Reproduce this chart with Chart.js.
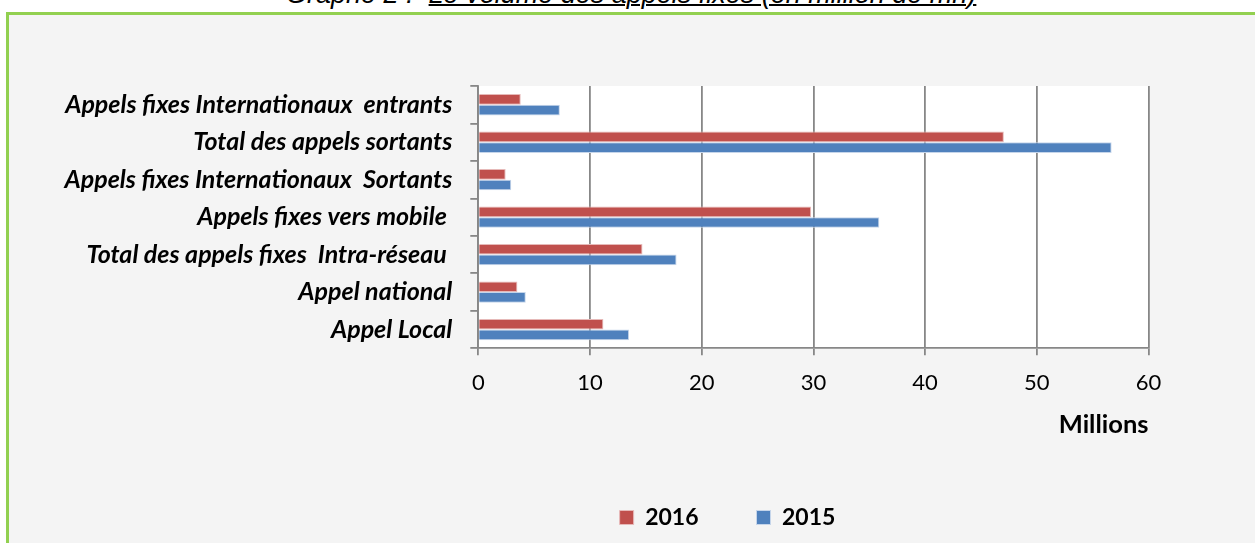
<!DOCTYPE html>
<html>
<head>
<meta charset="utf-8">
<script src="https://cdn.jsdelivr.net/npm/chart.js@4.4.1/dist/chart.umd.min.js"></script>
<style>
  html, body { margin: 0; padding: 0; background: #ffffff; overflow: hidden; }
  #frame {
    position: absolute; left: 6px; top: 12px; width: 1400px; height: 700px;
    background: #f4f4f4; border-left: 3px solid #92d050; border-top: 3px solid #92d050;
  }
  #heading {
    position: absolute; left: 286px; top: -19px; white-space: pre;
    font: italic 27px "Liberation Sans", Arial, sans-serif; line-height: 1; color: #000;
  }
  #heading u { text-decoration-thickness: 2px; }
  #chart { position: absolute; left: 0; top: 0; }
</style>
</head>
<body>
<div id="frame"></div>
<div id="heading">Graphe 2 :  <u>Le volume des appels fixes (en million de mn)</u></div>
<canvas id="chart" width="1255" height="543"></canvas>
<script>
// categories, top to bottom as they appear on the chart
const categories = [
  "Appels fixes Internationaux  entrants",
  "Total des appels sortants",
  "Appels fixes Internationaux  Sortants",
  "Appels fixes vers mobile ",
  "Total des appels fixes  Intra-réseau ",
  "Appel national",
  "Appel Local"
];

// volumes in millions of minutes
const values2016 = [3.8, 47.05, 2.45, 29.8, 14.7, 3.5, 11.2];
const values2015 = [7.3, 56.7, 2.95, 35.9, 17.75, 4.25, 13.5];

const xTicks = [0, 10, 20, 30, 40, 50, 60];

const gridGrey = "#878787";

// white plot area
const plotBackground = {
  id: "plotBackground",
  beforeDraw(chart) {
    const { ctx, chartArea: a } = chart;
    ctx.save();
    ctx.fillStyle = "#ffffff";
    ctx.fillRect(a.left, a.top, a.right - a.left, a.bottom - a.top);
    ctx.restore();
  }
};

// the legend sits left of the plot centre, as in the original
const legendShift = {
  id: "legendShift",
  afterLayout(chart) {
    const lg = chart.legend;
    const shift = 727.5 - (lg.left + lg.right) / 2;
    lg.left += shift;
    lg.right += shift;
  }
};

new Chart(document.getElementById("chart"), {
  type: "bar",
  plugins: [plotBackground, legendShift],
  data: {
    labels: categories,
    datasets: [
      {
        label: "2016",
        data: values2016,
        backgroundColor: "#c0504d",
        borderColor: "#e6b9b8",
        borderWidth: 1
      },
      {
        label: "2015",
        data: values2015,
        backgroundColor: "#4f81bd",
        borderColor: "#c5d5ea",
        borderWidth: 1
      }
    ]
  },
  options: {
    indexAxis: "y",
    responsive: false,
    devicePixelRatio: 1,
    animation: false,
    categoryPercentage: 0.57,
    barPercentage: 1,
    layout: { padding: { left: 20, right: 106.5, top: 86, bottom: 4 } },
    scales: {
      x: {
        min: 0,
        max: 60,
        afterBuildTicks(scale) {
          scale.ticks = xTicks.map(v => ({ value: v }));
        },
        afterFit(scale) { scale.height = 99.7; },
        grid: { color: gridGrey, lineWidth: 1.8, tickLength: 7, tickColor: gridGrey },
        border: { color: gridGrey, width: 1.8 },
        ticks: {
          color: "#000",
          padding: 14.5,
          font: { family: "Lato", size: 22 }
        },
        title: {
          display: true,
          text: "Millions",
          align: "end",
          color: "#000",
          font: { family: "Lato", size: 25.5, weight: "bold" },
          padding: { top: 0, bottom: 7.7 }
        }
      },
      y: {
        afterFit(scale) { scale.width = 458.3; },
        grid: {
          drawOnChartArea: false,
          offset: true,
          tickLength: 8,
          color: gridGrey,
          lineWidth: 1.8
        },
        border: { color: gridGrey, width: 1.8 },
        ticks: {
          autoSkip: false,
          color: "#000",
          padding: 18,
          font: { family: "Lato", size: 25, weight: "bold", style: "italic" }
        }
      }
    },
    plugins: {
      tooltip: { enabled: false },
      legend: {
        position: "bottom",
        labels: {
          color: "#000",
          boxWidth: 14,
          boxHeight: 14,
          padding: 58,
          font: { family: "Lato", size: 23, weight: "bold" }
        }
      }
    }
  }
});
</script>
</body>
</html>
